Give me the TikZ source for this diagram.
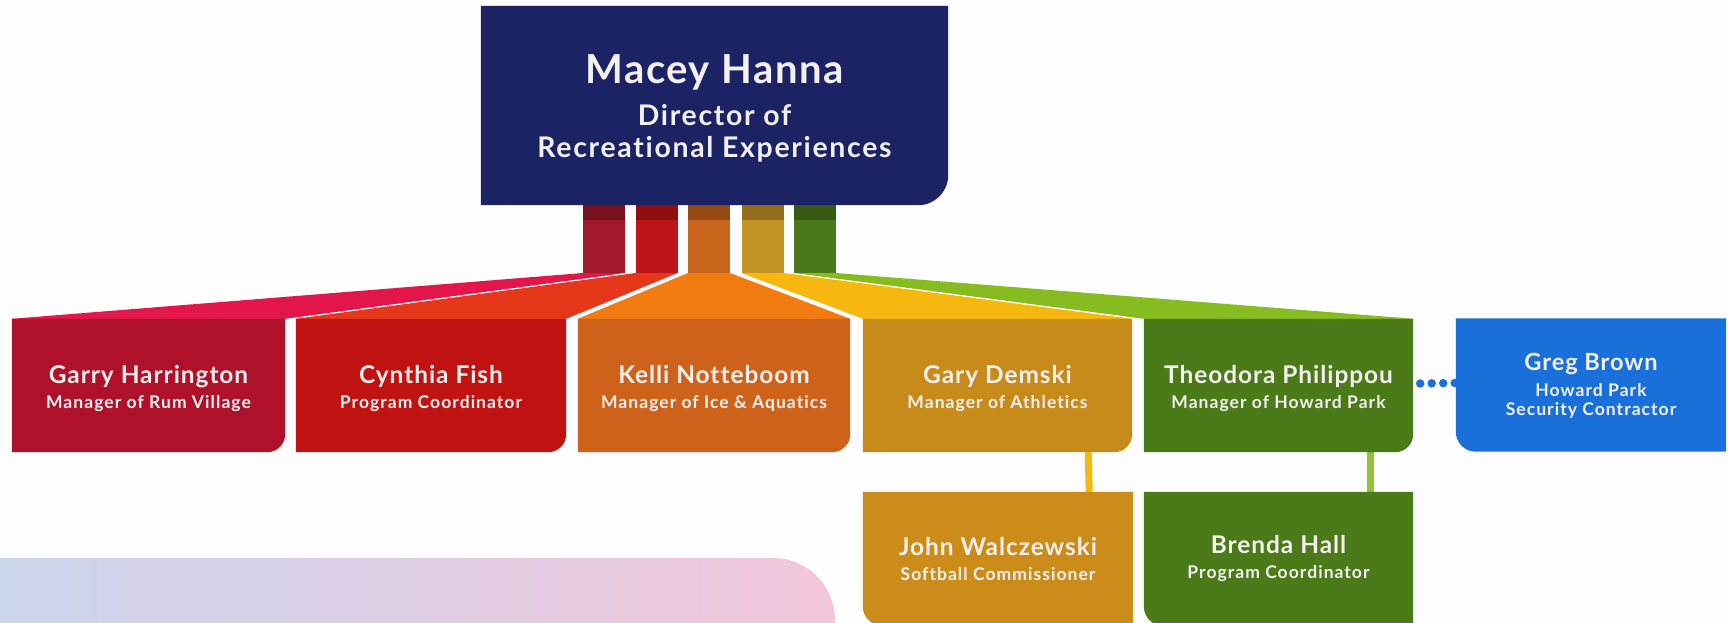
\documentclass[tikz,border=0pt]{standalone}
\usepackage{fontspec}
\setmainfont{Lato}[LetterSpace=4, Ligatures=NoCommon]
\newfontfamily\subfont{Lato}[LetterSpace=6, Ligatures=NoCommon]
\usetikzlibrary{backgrounds}

\definecolor{paper}{HTML}{FDFDFD}
\definecolor{navy}{HTML}{1B2365}
\definecolor{cardtext}{HTML}{F4F0F0}
% stems under the director box
\definecolor{stemA}{HTML}{A0182A}
\definecolor{stemB}{HTML}{BE1418}
\definecolor{stemC}{HTML}{C8641C}
\definecolor{stemD}{HTML}{C39426}
\definecolor{stemE}{HTML}{4C7A1A}
% fans spreading to the manager boxes
\definecolor{fanA}{HTML}{E3164C}
\definecolor{fanB}{HTML}{E5371A}
\definecolor{fanC}{HTML}{F27B12}
\definecolor{fanD}{HTML}{F6B80E}
\definecolor{fanE}{HTML}{86BC1F}
% box fills
\definecolor{boxA}{HTML}{B0112A}
\definecolor{boxB}{HTML}{C01210}
\definecolor{boxC}{HTML}{CF621A}
\definecolor{boxD}{HTML}{C68B1A}
\definecolor{boxE}{HTML}{4B7A19}
\definecolor{boxBlue}{HTML}{1A70DA}
\definecolor{boxGold}{HTML}{CB8C1A}
% soft panel at the bottom
\definecolor{gradL}{HTML}{C6D7EE}
\definecolor{gradM}{HTML}{D3D3EC}
\definecolor{gradR}{HTML}{F3C6DB}

\newcommand{\cardname}{\fontsize{24.4}{25}\selectfont}
% box with rounded bottom-right corner: #1 node, #2 colour, #3 radius
\newcommand{\fillse}[3]{\fill[#2] (#1.north west) -- (#1.north east) -- ([yshift=#3]#1.south east) arc[start angle=0,end angle=-90,radius=#3] -- (#1.south west) -- cycle;}
% box with rounded bottom-left corner
\newcommand{\fillsw}[3]{\fill[#2] (#1.north west) -- (#1.north east) -- (#1.south east) -- ([xshift=#3]#1.south west) arc[start angle=270,end angle=180,radius=#3] -- cycle;}

\begin{document}
\begin{tikzpicture}[x=1pt,y=1pt,
  card/.style={rectangle, inner sep=0pt, minimum height=133pt},
  cardtext/.style={text=cardtext, inner sep=0pt, align=center},
  link/.style={line width=7pt},
  dotline/.style={boxBlue, line width=8.5pt, line cap=round, dash pattern=on 0pt off 11.5pt}]
\useasboundingbox (0,0) rectangle (1728,-623);

% director
\node[card, minimum width=467pt, minimum height=199pt] (macey) at (714.5,-105.5) {};
\node[cardtext, font=\subfont\fontsize{28.4}{32}\selectfont\bfseries] (maceytext) at ([yshift=-3pt]macey.center)
  {{\rmfamily\fontsize{40}{42}\selectfont Macey Hanna}\\[10pt]Director of\\Recreational Experiences};

% managers
\node[card, minimum width=273pt] (garry) at (148.5,-385.5) {};
\node[card, minimum width=270pt] (cynthia) at (431,-385.5) {};
\node[card, minimum width=272pt] (kelli) at (714,-385.5) {};
\node[card, minimum width=269pt] (gary) at (997.5,-385.5) {};
\node[card, minimum width=269pt] (theodora) at (1278.5,-385.5) {};
\node[card, minimum width=270pt] (greg) at (1591,-385) {};
\foreach \b/\nm/\role in {garry/Garry Harrington/Manager of Rum Village,
    cynthia/Cynthia Fish/Program Coordinator,
    kelli/Kelli Notteboom/Manager of Ice \& Aquatics,
    gary/Gary Demski/Manager of Athletics,
    theodora/Theodora Philippou/Manager of Howard Park}
  \node[cardtext, font=\subfont\fontsize{17.5}{25}\selectfont\bfseries] (\b-text) at ([yshift=-3pt]\b.center)
    {{\rmfamily\cardname \nm}\\\role};
\node[cardtext, font=\subfont\fontsize{17.5}{19}\selectfont\bfseries] (greg-text) at ([yshift=-1pt]greg.center)
  {{\rmfamily\fontsize{23.6}{25}\selectfont Greg Brown}\\[7pt]Howard Park\\Security Contractor};

% second row
\node[card, minimum width=270pt, minimum height=134pt] (john) at (998,-559) {};
\node[card, minimum width=269pt, minimum height=134pt] (brenda) at (1278.5,-559) {};
\foreach \b/\nm/\role in {john/John Walczewski/Softball Commissioner,
    brenda/Brenda Hall/Program Coordinator}
  \node[cardtext, font=\subfont\fontsize{17.5}{25}\selectfont\bfseries] (\b-text) at (\b.center)
    {{\rmfamily\cardname \nm}\\\role};

\begin{pgfonlayer}{background}
  \fill[paper] (0,0) rectangle (1728,-623);
  \shade[left color=gradL, middle color=gradM, right color=gradR, rounded corners=62pt]
    (-100,-720) -- (-100,-558) -- (835,-558) -- (835,-720) -- cycle;

  % stems and fans from the director to each manager
  \foreach \n/\x/\sc/\fc/\b in {1/604/stemA/fanA/garry, 2/656.5/stemB/fanB/cynthia,
      3/709/stemC/fanC/kelli, 4/762.5/stemD/fanD/gary, 5/815/stemE/fanE/theodora} {
    \coordinate (foot\n) at (\x,-273);
    \fill[\fc] ([xshift=-21pt]foot\n) -- ([xshift=21pt]foot\n) -- (\b.north east) -- (\b.north west) -- cycle;
    \fill[\sc] ([xshift=-21pt]foot\n) rectangle ([xshift=21pt]foot\n |- macey.south);
    \fill[black, opacity=.25] ([xshift=-21pt]foot\n |- macey.south) rectangle ([xshift=21pt,yshift=-15pt]foot\n |- macey.south);
  }

  % links to the second row and to the contractor
  \draw[link, fanD] ([xshift=-44pt]gary.south east) -- ([xshift=-44pt]john.north east);
  \draw[link, fanE!90!white] ([xshift=-43pt]theodora.south east) -- ([xshift=-43pt]brenda.north east);
  \draw[dotline] ([xshift=7pt,yshift=2pt]theodora.east) -- ([yshift=2pt]greg.west);

  % boxes
  \fillse{macey}{navy}{30pt}
  \fillse{garry}{boxA}{18pt}
  \fillse{cynthia}{boxB}{18pt}
  \fillse{kelli}{boxC}{18pt}
  \fillse{gary}{boxD}{18pt}
  \fillse{theodora}{boxE}{18pt}
  \fillsw{greg}{boxBlue}{20pt}
  \fillsw{john}{boxGold}{20pt}
  \fillsw{brenda}{boxE}{20pt}
\end{pgfonlayer}
\end{tikzpicture}
\end{document}
